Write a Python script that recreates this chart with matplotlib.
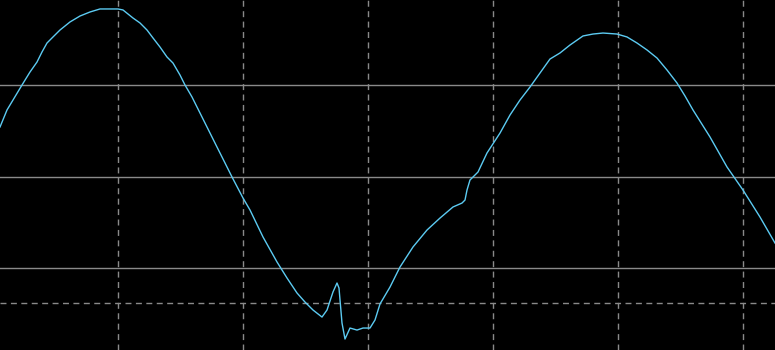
import matplotlib
matplotlib.use("Agg")
import matplotlib.pyplot as plt

# scope trace: time (ms) and level (divisions)
time_ms = [0.56, 1.12, 1.60, 2.32, 2.96, 3.52, 3.92, 4.32, 4.80, 5.36,
           6.16, 6.96, 7.76, 8.56, 9.36, 10.00, 10.40, 11.20, 11.76, 12.32,
           12.80, 13.36, 13.92, 14.40, 14.96, 15.36, 15.92, 16.56, 17.20, 17.92,
           18.56, 19.12, 20.00, 20.56, 21.60, 22.72, 23.52, 24.32, 24.96, 25.60,
           26.32, 26.72, 27.20, 27.52, 27.68, 27.92, 28.16, 28.56, 29.12, 29.60,
           30.16, 30.56, 30.96, 31.76, 32.56, 33.60, 34.72, 35.76, 36.80, 37.52,
           37.76, 37.92, 38.16, 38.80, 39.52, 40.56, 41.36, 42.16, 42.96, 43.76,
           44.56, 45.36, 46.16, 47.20, 48.00, 48.80, 49.92, 50.72, 51.52, 52.32,
           53.12, 53.92, 54.72, 55.36, 56.00, 57.36, 58.72, 60.00, 61.36, 62.56]
level = [1.541, 1.727, 1.836, 2.000, 2.142, 2.251, 2.361, 2.459, 2.525, 2.601,
         2.689, 2.754, 2.798, 2.831, 2.831, 2.831, 2.820, 2.732, 2.678, 2.601,
         2.514, 2.415, 2.306, 2.240, 2.109, 2.000, 1.869, 1.694, 1.519, 1.322,
         1.148, 0.995, 0.765, 0.634, 0.339, 0.066, -0.109, -0.273, -0.372, -0.459,
         -0.536, -0.459, -0.262, -0.164, -0.219, -0.601, -0.776, -0.656, -0.678, -0.656,
         -0.656, -0.568, -0.393, -0.208, 0.011, 0.230, 0.415, 0.546, 0.667, 0.710,
         0.743, 0.852, 0.962, 1.049, 1.257, 1.475, 1.672, 1.836, 1.978, 2.131,
         2.284, 2.350, 2.437, 2.536, 2.557, 2.568, 2.557, 2.525, 2.459, 2.383,
         2.295, 2.164, 2.022, 1.880, 1.727, 1.432, 1.104, 0.852, 0.557, 0.273]

time_grid = [10, 20, 30, 40, 50, 60]
level_grid = [0, 1, 2]
trigger_level = -0.383

plt.rcParams["lines.scale_dashes"] = False

fig = plt.figure(figsize=(7.75, 3.5), dpi=100, facecolor="black")
ax = fig.add_axes([0, 0, 1, 1], facecolor="black")

for t in time_grid:
    ax.axvline(t, color="#8a8a8a", lw=1, dashes=(4.3, 3.2))
for v in level_grid:
    ax.axhline(v, color="#8a8a8a", lw=1)
ax.axhline(trigger_level, color="#8a8a8a", lw=1, dashes=(4.3, 3.2))

ax.plot(time_ms, level, color="#5ccbf2", lw=1)

ax.set_xlim(0.56, 62.56)
ax.set_ylim(-0.896, 2.929)
ax.axis("off")

fig.savefig("out.png", dpi=100, facecolor="black")
